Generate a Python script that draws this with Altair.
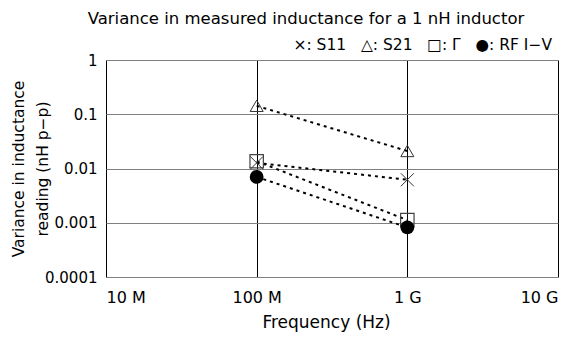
import altair as alt
import pandas as pd

freqs = [1e8, 1e9]
series = ["S11", "S21", "Γ", "RF I-V"]
s11 = [0.0127, 0.0062]
s21 = [0.143, 0.021]
gamma = [0.0136, 0.00112]
rfiv = [0.0070, 0.00082]

x_ticks = [1e7, 1e8, 1e9, 1e10]
y_ticks = [1, 0.1, 0.01, 0.001, 0.0001]

rows = []
for name, vals in zip(series, [s11, s21, gamma, rfiv]):
    for f, v in zip(freqs, vals):
        rows.append({"freq": f, "val": v, "series": name})
df = pd.DataFrame(rows)

FONT = "DejaVu Sans"
W, H = 452, 217
NB = "\u00a0"

xenc = alt.X("freq:Q", scale=alt.Scale(type="log", domain=[1e7, 1e10]),
             axis=alt.Axis(values=x_ticks, title="Frequency (Hz)",
                           labelExpr="datum.value >= 1e9 ? format(datum.value/1e9,'d') + '\u00a0G' : format(datum.value/1e6,'d') + '\u00a0M'",
                           grid=True, gridColor="#000000", gridWidth=1, gridOpacity=1,
                           domain=False, ticks=False, labelPadding=12,
                           labelFontSize=16, titleFontSize=17, titlePadding=9,
                           titleX=220, titleAnchor="middle",
                           labelFont=FONT, titleFont=FONT, titleFontWeight="normal",
                           labelColor="#000", titleColor="#000"))
yenc = alt.Y("val:Q", scale=alt.Scale(type="log", domain=[1e-4, 1]),
             axis=alt.Axis(values=y_ticks, format="~g",
                           title=["Variance in inductance", "reading (nH p\u2212p)"],
                           grid=True, gridColor="#808080", gridWidth=1, gridOpacity=1,
                           domain=False, ticks=False, labelPadding=9,
                           labelFontSize=15, titleFontSize=15.5, titlePadding=-6,
                           titleLineHeight=24,
                           labelFont=FONT, titleFont=FONT, titleFontWeight="normal",
                           labelColor="#000", titleColor="#000"))

base = alt.Chart(df)

lines = base.mark_line(color="#000", strokeDash=[3, 4], strokeWidth=2).encode(
    x=xenc, y=yenc, detail="series:N")

def pts(name, **kw):
    return alt.Chart(df[df.series == name]).mark_point(**kw).encode(x=xenc, y=yenc)

p_s21 = pts("S21", shape="triangle-up", size=170, filled=False, stroke="#333", strokeWidth=1, opacity=1)
p_g = pts("Γ", shape="square", size=180, filled=False, stroke="#444", strokeWidth=1.2, opacity=1)
p_s11 = pts("S11", shape="M-1,-1L1,1M1,-1L-1,1", size=170, filled=False, stroke="#333", strokeWidth=1, opacity=1)
p_rf = pts("RF I-V", shape="circle", size=190, filled=True, color="#000", opacity=1)

legend_text = ["\u00d7: S11", "\u25b3: S21", "\u25a1: \u0393", "\u25cf: RF I\u2212V"]
legend = alt.Chart(pd.DataFrame({"t": [(NB * 3).join(legend_text)]})).mark_text(
    align="right", baseline="middle", fontSize=15.5, font=FONT, color="#000").encode(
    x=alt.value(446), y=alt.value(-15), text="t:N")

chart = alt.layer(lines, p_s21, p_g, p_s11, p_rf, legend).properties(
    width=W, height=H,
    title=alt.TitleParams("Variance in measured inductance for a 1 nH inductor",
                          font=FONT, fontSize=16.5, fontWeight="normal", color="#000",
                          anchor="middle", dx=-26, offset=11),
    autosize=alt.AutoSizeParams(type="none"),
    padding={"left": 106, "top": 60, "right": 19, "bottom": 62},
).configure_view(stroke="#000", strokeWidth=2.5).configure(background="white")

chart.save("out.html", embed_options={"renderer": "svg", "actions": False})
